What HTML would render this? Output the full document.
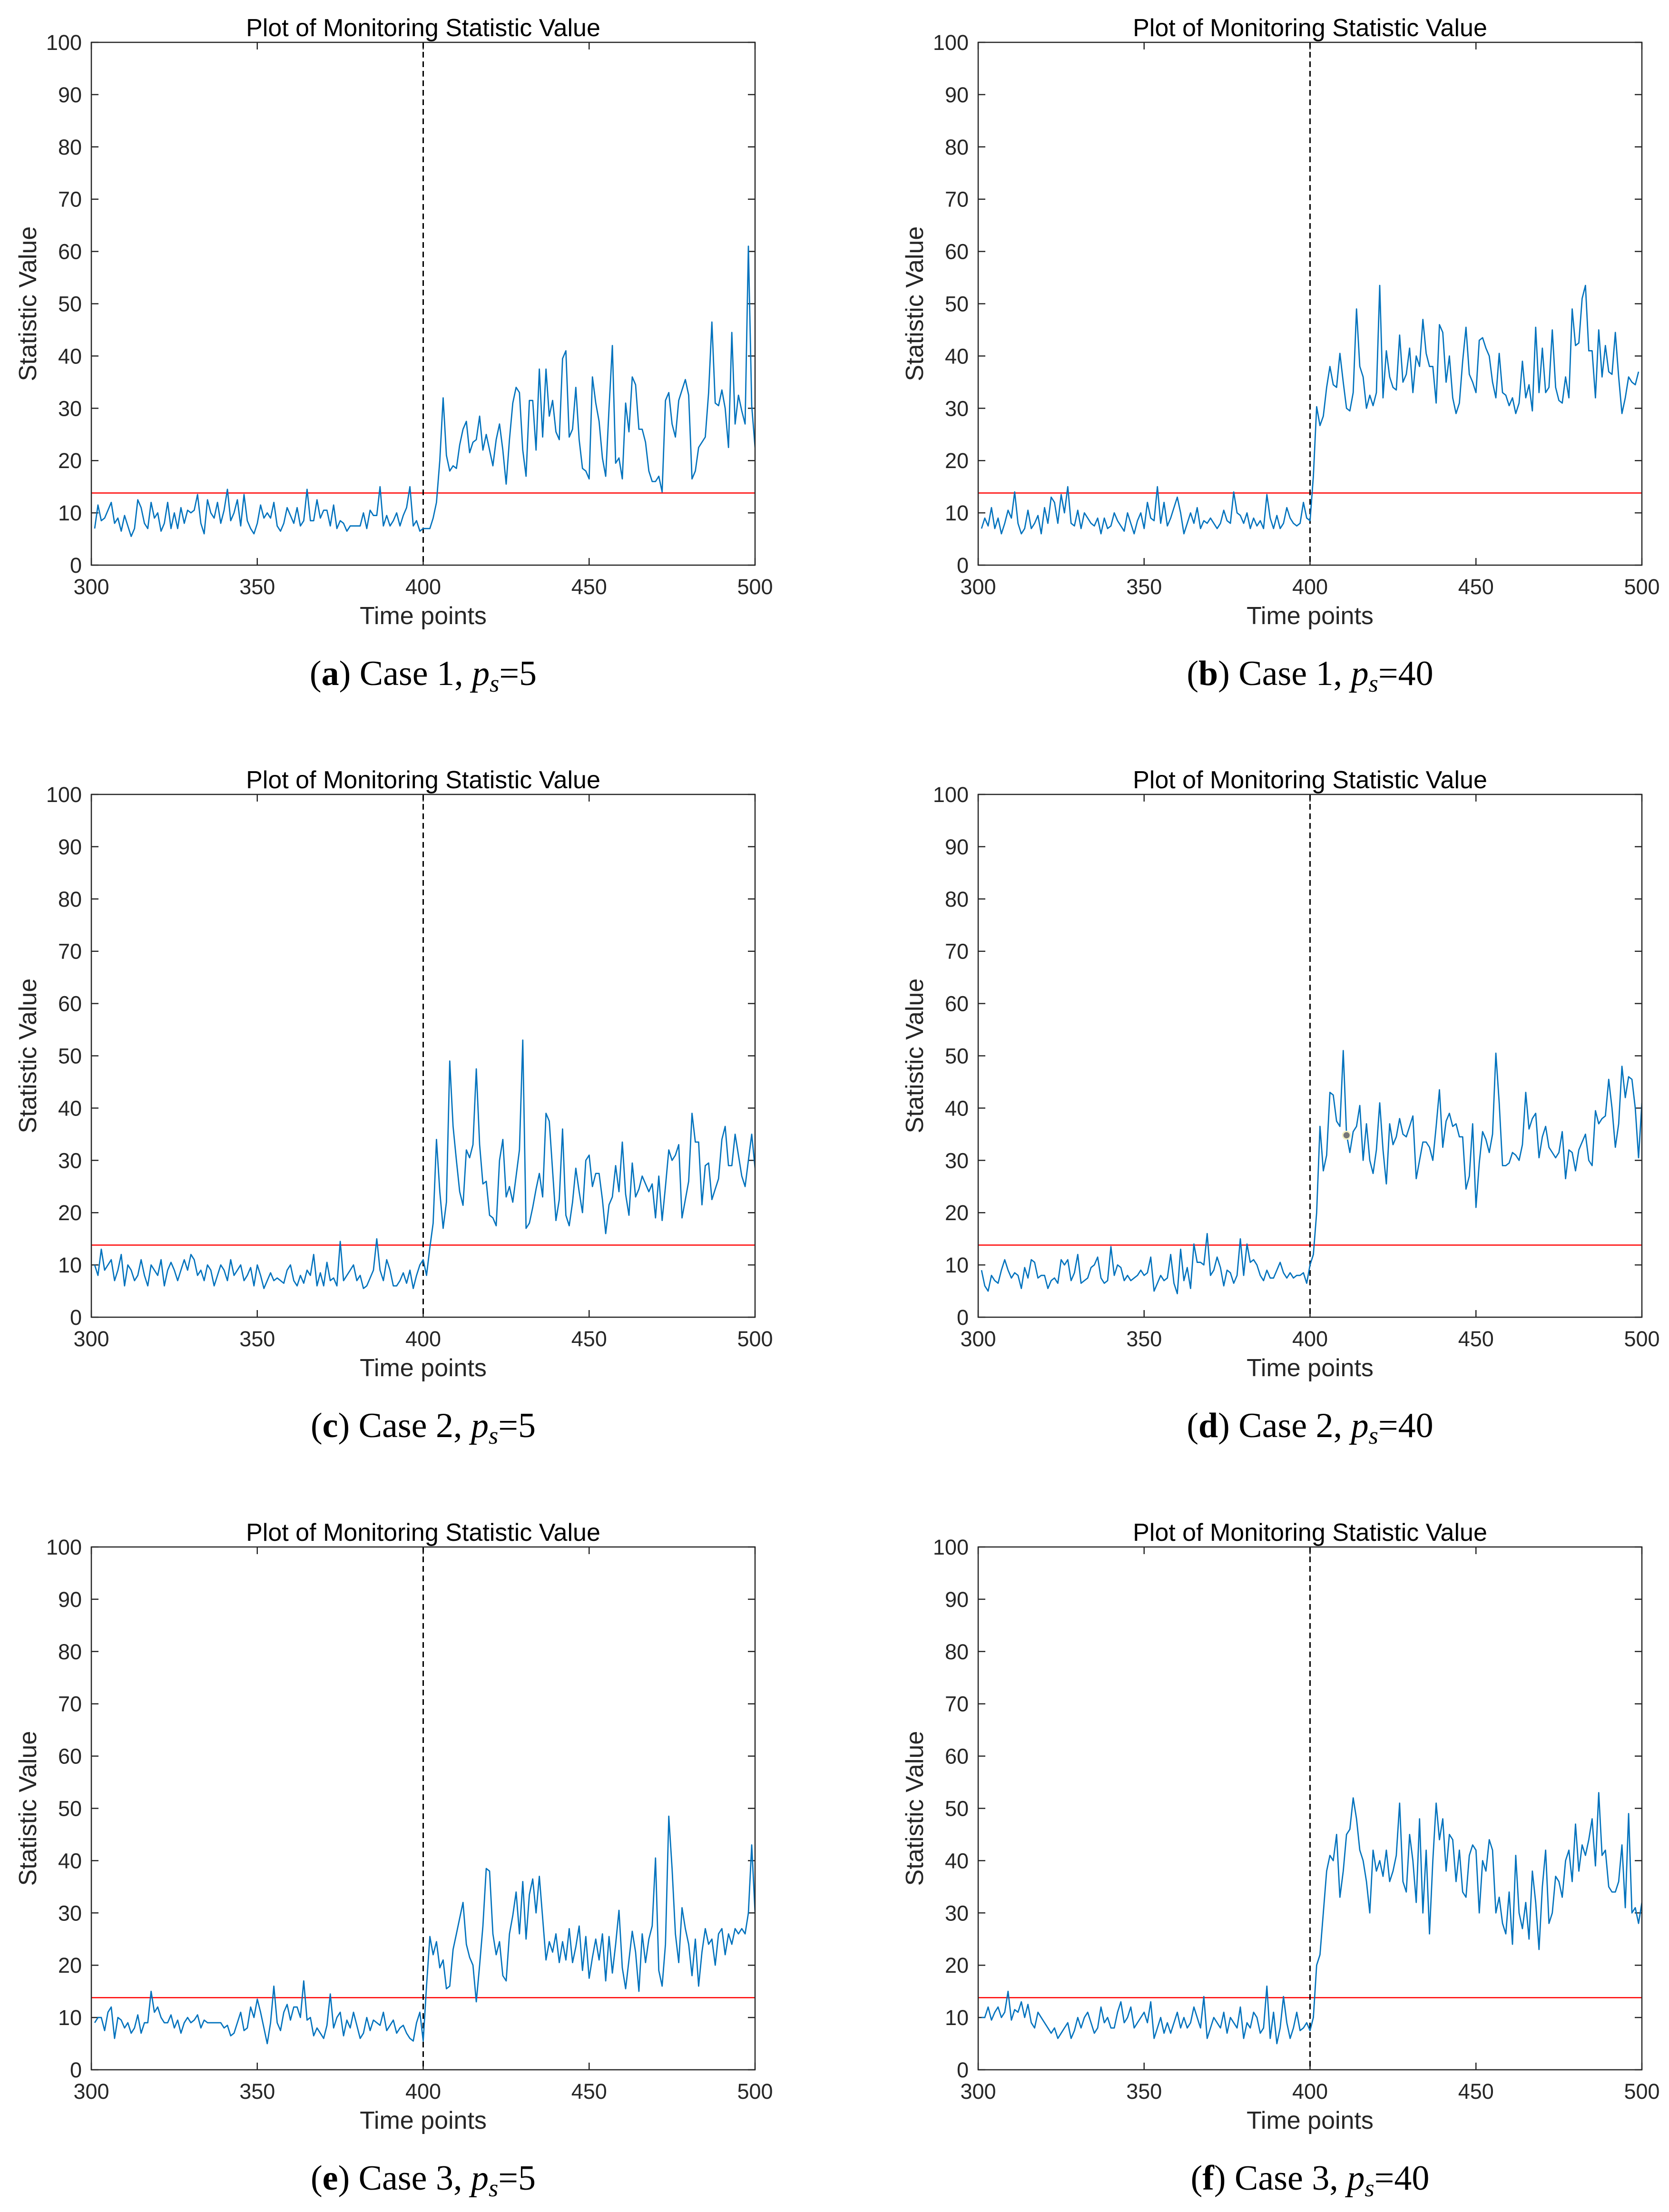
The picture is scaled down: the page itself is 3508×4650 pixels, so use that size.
<!DOCTYPE html>
<html><head><meta charset="utf-8"><title>Monitoring statistic plots</title>
<style>html,body{margin:0;padding:0;background:#fff}svg{display:block}</style></head>
<body>
<svg id="fig" xmlns="http://www.w3.org/2000/svg" width="3508" height="4650" viewBox="0 0 3508 4650"></svg>
<script>
const xTicks = [300, 350, 400, 450, 500];
const yTicks = [0, 10, 20, 30, 40, 50, 60, 70, 80, 90, 100];
const threshold = 13.8;
const changePoint = 400;
const startTime = 301;
const captions = [["a","1","5"],["b","1","40"],["c","2","5"],["d","2","40"],["e","3","5"],["f","3","40"]];
const seriesA = [7,11.5,8.5,9,10.5,12,8,9,6.5,9.5,7.5,5.5,7,12.5,11,8,7,12,9,10,6.5,8,12,7,10,7,11,8,10.5,10,10.5,13.5,8,6,12.5,10,9,12,8,10.5,14.5,8.5,10,12.5,7.5,13.5,8.5,7,6,8,11.5,9,10,9,12,7.5,6.5,8,11,9.5,8,11,7.5,8.5,14.5,8.5,8.5,12.5,9,10.5,10.5,7.5,11.5,7,8.5,8,6.5,7.5,7.5,7.5,7.5,10,7,10.5,9.5,9.5,15,7.5,9.5,7.5,8.5,10,7.5,9.5,11,15,7.5,8.5,6.5,7,
7,7,9,12,20,32,21,18,19,18.5,23,26,27.5,21.5,23.5,24,28.5,22,25,22,19,24,27,22,15.5,24,31,34,33,22,17,31.5,31.5,22,37.5,24.5,37.5,28.5,31.5,25.5,24,39.5,41,24.5,26,34,24,18.5,18,16.5,36,31,27.5,20.5,17,30,42,19.5,20.5,16.5,31,25.5,36,34.5,26,26,23.5,18,16,16,17,14,31.5,33,27,24.5,31.5,33.5,35.5,32.5,16.5,18,22.5,23.5,24.5,33,46.5,31,30.5,33.5,30,22.5,44.5,27,32.5,29.5,27,61,30.5,22.5];
const seriesB = [7,9,7.5,11,7,9,6,8,10.5,9,14,8,6,7,10.5,7,8,9.5,6,11,8,13,12,8,13.5,10,15,8,7.5,10.5,7,10,9,8,7.5,9,6,9,7,7.5,10,8.5,7.5,6.5,10,8,6,8.5,10,7,12,9,8.5,15,8,12,7.5,9,11,13,10,6,8,10,8,11,7,8.5,8,9,8,7,8,10.5,8.5,8,14,10,9.5,8,10,7,9,7.5,8.5,7,13.5,9,7,9.5,7,8,11,9,8,7.5,8,12,9,8.5,
17,30.3,26.7,28.5,34,38,34.5,34,40.5,35,30,29.5,33,49,38,36,30,32.5,30.5,33,53.5,32,41,36,34,33.5,44,35,36.5,41.5,33,40,38,47,40.5,38,38,31,46,44.5,35,40,32,29,31,39,45.5,36.5,35,33,43,43.5,41.5,40,35,32,40.5,33,32.5,30.5,32,29,31,39,32,34.5,29.5,45.5,33,41.5,33,34,45,34,31.5,31,36,32,49,42,42.5,51,53.5,41,41,32,45,36,42,37,36.5,44.5,36,29,32,36,35,34.5,37];
const seriesC = [10,8,13,9,10,11,7,9,12,6,10,9,7,8,11,8,6,10,9,8,11,6,9,10.5,9,7,9,11,9,12,11,8,9,7,10,9,6,8,10,9,7,11,8,9,10,7,8,9.5,6,10,8,5.5,7,8.5,7,7.5,7,6.5,9,10,7,6,8,6.5,9,8,12,6,8.5,6,10.5,7,7.5,6,14.5,7,8,9,10,7,8,5.5,6,7.5,9,15,9,7,11,9,6,6,7,8.5,6.5,9,5.5,8,10,11,
8,13.3,18,34,24,17,22,49,36.5,30,24,21.4,32,30.5,33,47.5,33,25.5,26,19.5,19,17.5,30,34,23,25,22,27,32,53,17,18,21,24.5,27.5,23,39,37.5,28,18.5,22.5,36,19.5,17.5,22,28.5,24,20,30,31,25,27.5,27.5,22.5,16,21.5,23,29,24,33.5,23.5,19.5,29.5,23,24.5,27,25.5,24,25.5,19,27,18.5,25,32,30,31,33,19,22.5,26,39,33.5,33.5,21.5,29,29.5,22.5,24.5,26.5,34,36.5,29,29,35,31,27,25,30,35,28.5];
const seriesD = [9,6,5,8,7,6.5,9,11,9,7.5,8.5,8,5.5,9.5,7.5,11,10.5,7.5,8,8,5.5,7,7.5,6.5,11,10,11,7,8.5,12,6.5,7,7.5,9.5,10,11.5,7.5,6.5,7,13.5,8,10,9.5,7,8,7,7.5,8,9,8,8.5,11.5,5,6.5,8,7,7.5,12,6.5,4.5,13,7,9.5,5.5,14,10.5,10.5,10,16,8,9,11.5,9.5,6,9,8.5,6.5,8,15,8,14,10.5,11,10,8,7,9,7.5,7.5,9,10.5,8.5,7.5,8.5,7.5,8,8,8.5,6.5,10,
12,20,36.5,28,31,43,42.5,37.5,36.5,51,35,31.5,35.5,36.5,40.5,30,37,30,27.5,32,41,32,25.5,37,33,34.5,38,35,34.5,36.5,38.5,26.5,30,33.5,33.5,32.5,30,36.5,43.5,32.5,37.5,39,36.5,37,34.5,34.5,24.5,27,37,21,29.5,35.5,34,31.5,35,50.5,41,29,29,29.5,31.5,31,30,33,43,36,38,39,30.5,34.5,36.5,32.5,31.5,30.5,31.5,35.5,26.5,32,31.5,28,32,33.5,35,30,29,39.5,37,38,38.5,45.5,40,32.5,37,48,42,46,45.5,40,30.5,41];
const seriesE = [9,10,10,7.5,11,12,6,10,9.5,8,9,7,8,10.5,7,9,9,15,11,12,10,9,9,10.5,8,9.5,7,9,10,9,9.5,10.5,8,9.5,9,9,9,9,9,8,8.5,6.5,7,9,11,7.5,8,12,10,13.5,11,8,5,9,16,9,7.5,11,12.5,9.5,12,12,10,17,9.5,10,6.5,8,7,6,8.5,14.5,8,10,11,6.5,9.5,8,11,8.5,6,7,10,7.5,9.5,9,8.5,11,7.5,8.5,9.5,7,8,8.5,7,6,5.5,9,11,5.5,
16,25.5,22,24.5,19.5,21,15.5,16,23,26,29,32,24,21.5,20,13,20,27.5,38.5,38,26,22,24.5,18,17,26,29.5,34,26,36,25,33.5,36.5,30,37,29,21,24.5,22.5,26,20.5,24.5,21,27,20.5,23.5,27.5,19,25.5,17.5,21.5,25,21,26,17,25.5,18.5,24,30.5,19.5,15.5,21,26.5,22.5,15,26,20.5,25,27.5,40.5,19,16,24,48.5,38.5,26,20.5,31,27,24,18,25,16,22.5,27,24,25,20,26,27,22,26,24,27,26,27,26,30,43,30];
const seriesF = [10,10,12,9.5,11,12,10,11,15,9.5,11.5,11,13,10,12.5,9,8,11,10,9,8,7,8,6,7,8,9,6,7.5,10,8,10,11,9,7,8,12,9,10,8,8,11,13,9,10,12,8,9,10,11,9,13,6,8,10,7,9,7,9,11,8,10,8,9,12,10,8,14,6,8,10,9,8,11,7,10,9,8,12,6,9,8,11,10,7,8,16,6,11,5,8,14,9,6,8,11,7.5,8,9,7.5,
10,20,22,30,38,41,40,45,33,38,45,46,52,48,42,40,36,30,42,38,40,37,42,36,38,41,51,36,34,45,40,32,48,30,42,26,40,51,44,48,38,45,44,36,42,34,33,41,43,42,30,40,38,44,42,30,33,28,26,34,24,41,30,27,32,25,38,32,23,35,42,28,30,37,36,33,40,42,36,47,38,43,41,44,48,39,53,41,42,35,34,34,36,43,31,49,30,31,28,32];
const allSeries = [seriesA, seriesB, seriesC, seriesD, seriesE, seriesF];
const markerPoint = [411, 34.8];

const NS = "http://www.w3.org/2000/svg";
const svg = document.getElementById("fig");
const PW = 1395, PH = 1099;
const lefts = [192, 2056];
const tops = [89, 1670, 3252];
function mk(tag, attrs, parent) {
  const e = document.createElementNS(NS, tag);
  for (const k in attrs) e.setAttribute(k, attrs[k]);
  parent.appendChild(e);
  return e;
}
allSeries.forEach((series, i) => {
  const L = lefts[i % 2], T = tops[Math.floor(i / 2)];
  const sx = v => L + (v - 300) / 200 * PW;
  const sy = v => T + PH - v / 100 * PH;
  const g = mk("g", {}, svg);
  
  
  const cid = 'clip' + i;
  const cp0 = mk("clipPath", {id: cid}, g);
  mk("rect", {x: L, y: T, width: PW, height: PH}, cp0);
  const title = mk("text", {x: L + PW / 2, y: T - 13, "text-anchor": "middle", "font-family": "Liberation Sans, sans-serif", "font-size": 52, fill: "#000"}, g);
  title.textContent = "Plot of Monitoring Statistic Value";
  
  
  yTicks.forEach(t => {
    const y = sy(t);
    const tk = mk("path", {d: `M${L} ${y}h15M${L + PW} ${y}h-15`, stroke: "#262626", "stroke-width": 2.5}, g);
    
    
    const lb = mk("text", {x: L - 20, y: y + 16, "text-anchor": "end", "font-family": "Liberation Sans, sans-serif", "font-size": 45, fill: "#262626"}, g);
    lb.textContent = t;
    
    
  });
  xTicks.forEach(t => {
    const x = sx(t);
    const tk = mk("path", {d: `M${x} ${T + PH}v-15M${x} ${T}v15`, stroke: "#262626", "stroke-width": 2.5}, g);
    
    
    const lb = mk("text", {x: x, y: T + PH + 61, "text-anchor": "middle", "font-family": "Liberation Sans, sans-serif", "font-size": 45, fill: "#262626"}, g);
    lb.textContent = t;
    
    
  });
  const xl = mk("text", {x: L + PW / 2, y: T + PH + 124, "text-anchor": "middle", "font-family": "Liberation Sans, sans-serif", "font-size": 52, fill: "#262626"}, g);
  xl.textContent = "Time points";
  
  
  const yl = mk("text", {x: 0, y: 0, "text-anchor": "middle", "font-family": "Liberation Sans, sans-serif", "font-size": 52, fill: "#262626", transform: `translate(${L - 116},${T + PH / 2}) rotate(-90)`}, g);
  yl.textContent = "Statistic Value";
  
  
  const th = mk("line", {x1: L, x2: L + PW, y1: sy(threshold), y2: sy(threshold), stroke: "#ff0000", "stroke-width": 2.5}, g);
  
  
  const cp = mk("line", {x1: sx(changePoint), x2: sx(changePoint), y1: T, y2: T + PH, stroke: "#000", "stroke-width": 3, "stroke-dasharray": "12 8"}, g);
  
  
  const pts = series.map((v, k) => `${sx(startTime + k).toFixed(1)},${sy(v).toFixed(1)}`).join(" ");
  const pl = mk("polyline", {points: pts, fill: "none", stroke: "#0072BD", "stroke-width": 2.7, "stroke-linejoin": "round", "clip-path": `url(#${cid})`}, g);
  
  
  if (i === 3) {
    const c = mk("circle", {cx: sx(markerPoint[0]), cy: sy(markerPoint[1]), r: 8, fill: "#777", stroke: "#f3efc0", "stroke-width": 3}, g);
    
    
  }
  const fr = mk("rect", {x: L, y: T, width: PW, height: PH, fill: "none", stroke: "#262626", "stroke-width": 2.5}, g);
  
  
  const cap = mk("text", {x: L + PW / 2, y: T + PH + 252, "text-anchor": "middle", "font-family": "Liberation Serif, serif", "font-size": 74, fill: "#000"}, g);
  
  
  const c = captions[i];
  cap.innerHTML = `(<tspan font-weight="bold">${c[0]}</tspan>) Case ${c[1]}, <tspan font-style="italic">p</tspan><tspan font-style="italic" font-size="52" dy="14">s</tspan><tspan dy="-14">=${c[2]}</tspan>`;
});
</script>
</body></html>
